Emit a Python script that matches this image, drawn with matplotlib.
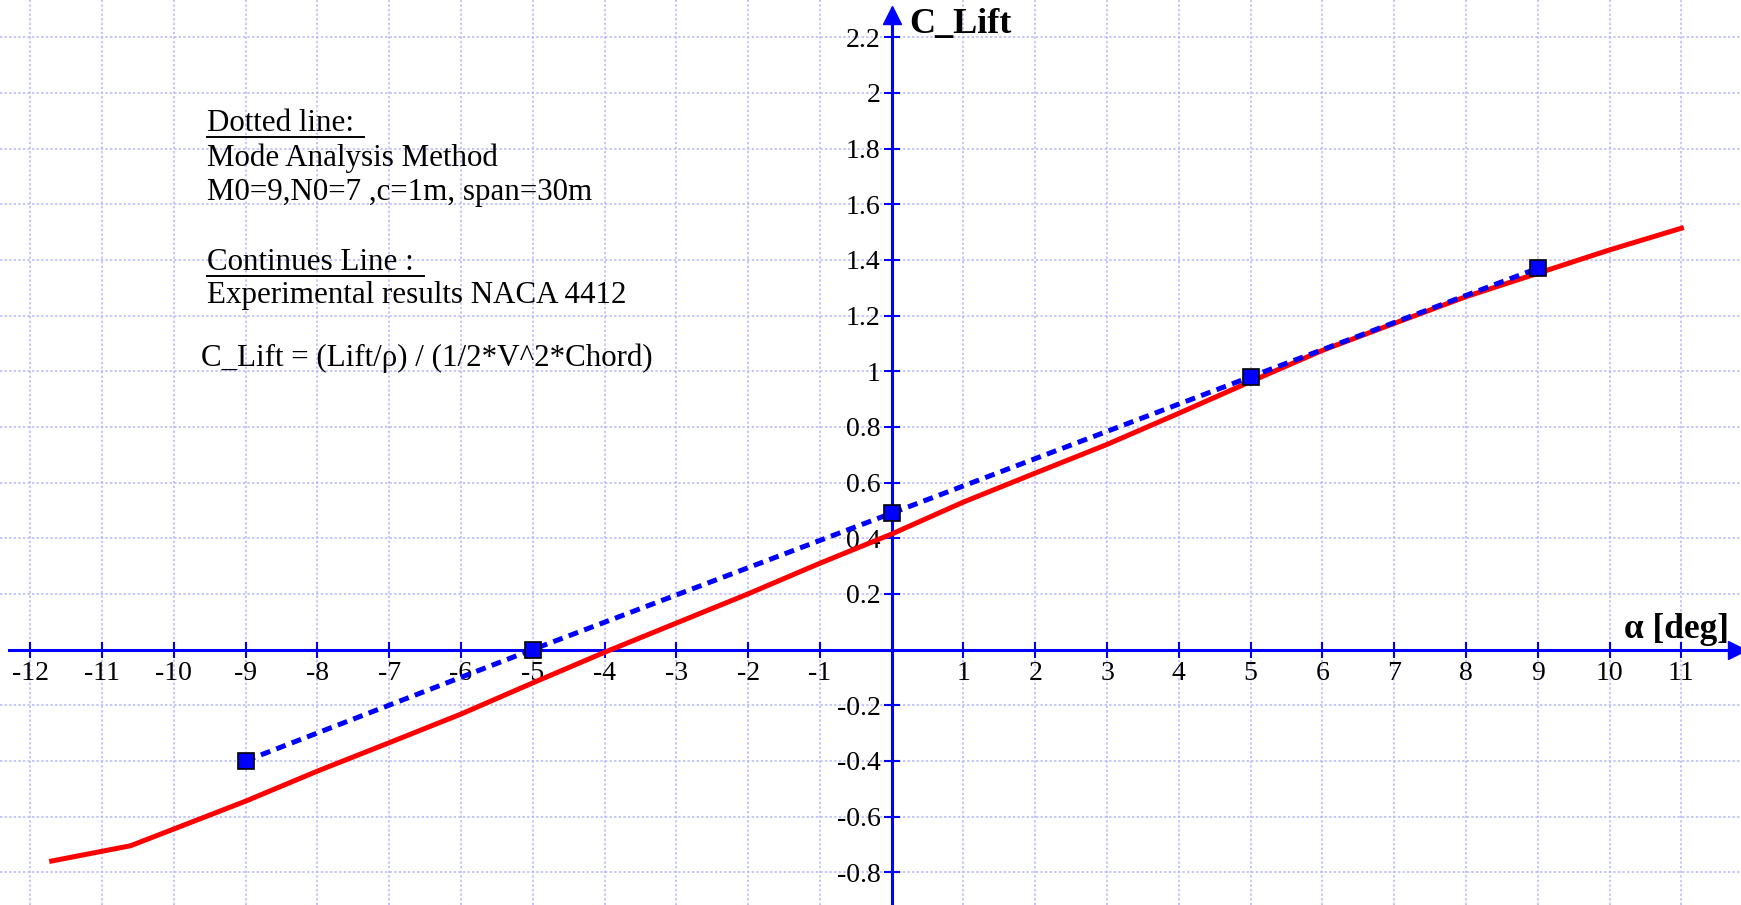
import matplotlib
matplotlib.use("Agg")
import matplotlib.pyplot as plt
from matplotlib.lines import Line2D

# mode analysis method (dotted line with markers)
alpha_model = [-9, -5, 0, 5, 9]
cl_model = [-0.40, 0.0, 0.49, 0.98, 1.37]

# experimental NACA 4412 (continuous line)
alpha_exp = [-11.7, -10.6, -10, -9, -8, -7, -6, -5, -4, -3, -2, -1,
             0, 1, 2, 3, 4, 5, 6, 7, 8, 9, 10, 11]
cl_exp = [-0.76, -0.705, -0.645, -0.545, -0.437, -0.335, -0.232, -0.12, -0.01, 0.095, 0.2, 0.31,
          0.415, 0.53, 0.634, 0.737, 0.849, 0.963, 1.075, 1.172, 1.268, 1.352, 1.436, 1.514]

x_ticks = [-12, -11, -10, -9, -8, -7, -6, -5, -4, -3, -2, -1, 1, 2, 3, 4, 5, 6, 7, 8, 9, 10, 11]
y_ticks = [-0.8, -0.6, -0.4, -0.2, 0.2, 0.4, 0.6, 0.8, 1.0, 1.2, 1.4, 1.6, 1.8, 2.0, 2.2]
y_ticklabels = ["-0.8", "-0.6", "-0.4", "-0.2", "0.2", "0.4", "0.6", "0.8",
                "1", "1.2", "1.4", "1.6", "1.8", "2", "2.2"]

plt.rcParams["font.family"] = ["Liberation Serif", "DejaVu Serif"]
plt.rcParams["axes.unicode_minus"] = False

W, H = 1741, 905
fig = plt.figure(figsize=(W / 100, H / 100), dpi=100)
ax = fig.add_axes([0, 0, 1, 1])

xmin, xmax = -12.42, 11.83
ymin, ymax = -0.918, 2.334
ax.set_xlim(xmin, xmax)
ax.set_ylim(ymin, ymax)

# grid
ax.set_xticks(x_ticks)
ax.set_yticks(y_ticks)
ax.set_yticklabels(y_ticklabels)
ax.grid(True, color="#b4b4ff", linestyle=(0, (1.5, 1.5)), linewidth=1.1, zorder=0)

# axes through origin
blue = "#0000ff"
for s in ["top", "right"]:
    ax.spines[s].set_visible(False)
ax.spines["left"].set_position(("data", 0))
ax.spines["bottom"].set_position(("data", 0))
ax.spines["left"].set_color(blue)
ax.spines["bottom"].set_color(blue)
ax.spines["left"].set_linewidth(2.2)
ax.spines["bottom"].set_linewidth(2.2)
ax.spines["left"].set_bounds(ymin, 2.28)
ax.spines["bottom"].set_bounds(-12.29, xmax)
ax.plot(0, 2.28, marker="^", color=blue, markersize=13, clip_on=False, zorder=5)
ax.plot(xmax - 0.05, 0, marker=">", color=blue, markersize=13, clip_on=False, zorder=5)

ax.tick_params(axis="both", direction="inout", length=11, width=1.5, color=blue,
               labelsize=20, labelcolor="black")
ax.tick_params(axis="x", pad=2.5)
ax.tick_params(axis="y", pad=2.5)

# curves
ax.plot(alpha_exp, cl_exp, color="#ff0000", linewidth=3.6, zorder=3)
ax.plot(alpha_model, cl_model, color=blue, linewidth=3.6, linestyle="--", dashes=(2.0, 1.3),
        marker="s", markersize=11, markerfacecolor=blue, markeredgecolor="black",
        markeredgewidth=1.2, zorder=4)

# axis labels
fig.text(909 / W, 1 - 33 / H, "C_Lift", fontsize=26, fontweight="bold", va="baseline", ha="left")
fig.text(1729 / W, 1 - 638 / H, "\u03b1 [deg]", fontsize=25.5, fontweight="bold", va="baseline", ha="right")

# notes
fs = 22.3
notes = [
    (207, 131, "Dotted line:", True),
    (207, 166, "Mode Analysis Method", False),
    (207, 200, "M0=9,N0=7 ,c=1m, span=30m", False),
    (207, 270, "Continues Line :", True),
    (207, 303, "Experimental results NACA 4412", False),
    (201, 366, "C_Lift = (Lift/\u03c1) / (1/2*V^2*Chord)", False),
]
texts = []
for x, y, s, ul in notes:
    t = fig.text(x / W, 1 - y / H, s, fontsize=fs, va="baseline", ha="left")
    texts.append((t, y, ul))

fig.canvas.draw()
renderer = fig.canvas.get_renderer()
for t, y, ul in texts:
    if ul:
        bb = t.get_window_extent(renderer)
        yy = H - (y + 6)
        fig.add_artist(Line2D([bb.x0, bb.x1 + 10], [yy, yy], transform=None,
                              color="black", linewidth=1.4))

fig.savefig("out.png", dpi=100)
